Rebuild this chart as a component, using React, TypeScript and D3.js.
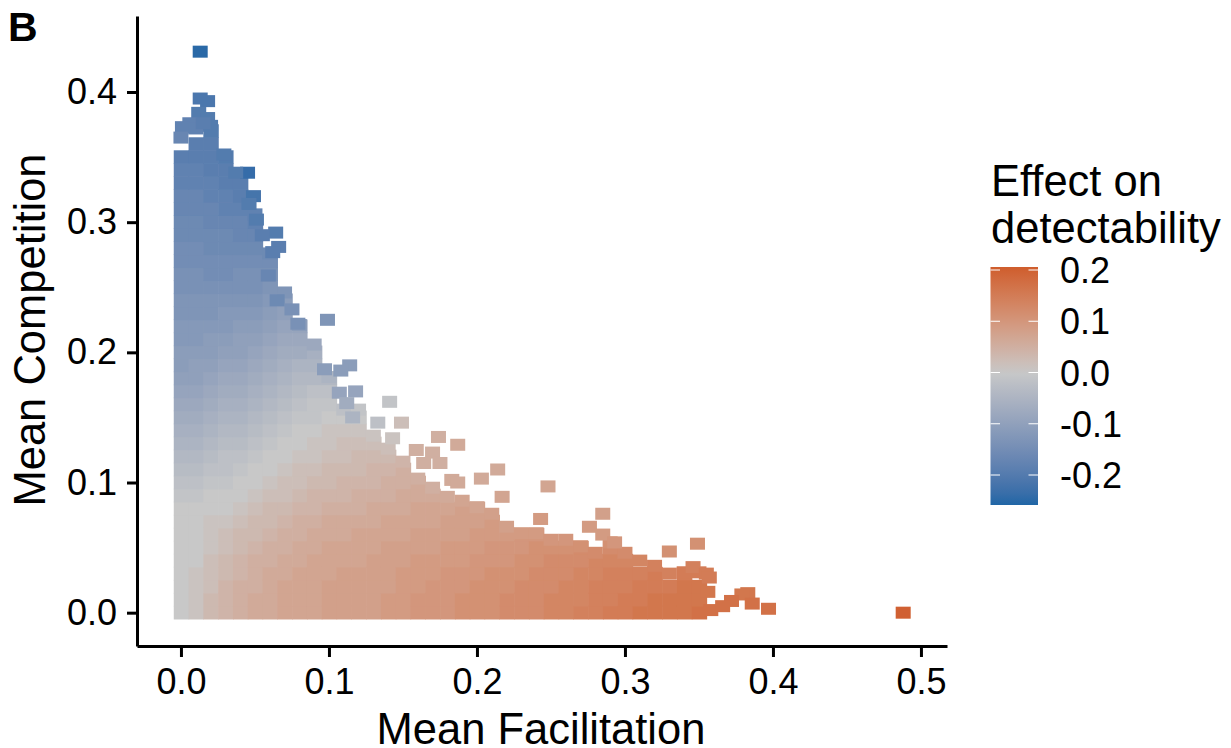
import { useRef, useEffect } from "react";
import * as d3 from "d3";

const xTicks = [0, 0.1, 0.2, 0.3, 0.4, 0.5];
const yTicks = [0, 0.1, 0.2, 0.3, 0.4];
const legendTicks = [0.2, 0.1, 0, -0.1, -0.2];
const legendLabels = ["0.2", "0.1", "0.0", "-0.1", "-0.2"];

// effect on detectability (in hundredths), one list per facilitation bin (0.00, 0.01, ...),
// going up in competition steps of 0.01 from 0
const gridStep = 0.01;
const effectColumns = [
  [0,0,0,0,0,0,0,0,0,-1,-2,-3,-4,-5,-6,-7,-8,-9,-10,-11,-11,-12,-12,-13,-13,-14,-14,-15,-15,-16,-16,-17,-17,-18,-18,-19],
  [1,1,1,1,0,0,0,0,0,-1,-2,-3,-4,-5,-6,-7,-8,-9,-10,-10,-11,-12,-12,-13,-13,-14,-14,-15,-15,-16,-16,-17,-17,-18,-18,-19,-19],
  [3,3,2,2,2,1,1,1,0,0,-1,-2,-3,-4,-5,-6,-7,-8,-9,-10,-11,-11,-12,-13,-13,-14,-15,-15,-16,-16,-17,-17,-18,-18,-19,-19,-19,-20],
  [4,4,4,3,3,2,2,1,0,0,-1,-2,-2,-3,-4,-5,-6,-7,-8,-9,-10,-11,-12,-12,-13,-14,-15,-15,-16,-16,-17,-18,-18,-19,-19,-20],
  [5,5,5,4,4,3,3,2,1,0,0,-1,-2,-3,-4,-5,-6,-7,-8,-9,-10,-10,-11,-12,-13,-14,-14,-15,-16,-17,-17,-18,-19,-19],
  [6,6,5,5,5,4,3,3,2,1,0,0,-1,-2,-3,-4,-5,-6,-7,-8,-9,-10,-11,-12,-13,-14,-14,-15,-16,-17,-18],
  [6,6,6,6,5,5,4,3,3,2,1,0,0,-1,-2,-3,-4,-5,-6,-7,-8,-9,-10,-11,-12,-13,-14,-15],
  [7,7,7,6,6,5,5,4,3,2,2,1,0,0,-1,-2,-3,-4,-5,-6,-7,-8,-9,-10,-11],
  [7,7,7,7,6,6,5,5,4,3,2,2,1,0,0,-1,-2,-3,-4,-5,-7,-8,-9],
  [7,7,7,7,7,6,6,5,4,4,3,2,1,1,0,-1,-1,-2,-4,-5,-6],
  [8,8,8,7,7,7,6,6,5,4,3,3,2,1,1,0,-1,-2,-4],
  [8,8,8,8,7,7,6,6,5,4,4,3,2,2,1,0],
  [8,8,8,8,7,7,7,6,5,5,4,3,3,2,1,0],
  [8,8,8,8,8,7,7,6,6,5,4,4,3,2],
  [9,9,8,8,8,8,7,7,6,5,5,4,3],
  [9,9,9,9,8,8,7,7,6,6,5,5],
  [10,10,9,9,9,8,8,7,7,6,6],
  [10,10,10,9,9,8,8,7,7,6],
  [10,10,10,10,9,9,8,8,7],
  [11,11,10,10,9,9,8,8,8],
  [11,11,11,10,10,9,9,8,8],
  [11,11,11,11,10,10,9,9],
  [12,12,11,11,10,10,9],
  [12,12,12,11,11,10,10],
  [12,12,12,12,11,11,10],
  [13,13,12,12,12,11],
  [13,13,13,12,12,11],
  [14,13,13,13,12,12],
  [14,14,14,13,13],
  [15,14,14,14,13,12],
  [15,15,14,14,13],
  [16,15,15,14],
  [16,16,15,15],
  [16,16,15],
  [16,16,16,15],
  [17,16,16],
];

// points along the upper rim of the dense area, one per facilitation bin from 0.05 up
const rimFacilitation = [
  0.05,0.06,0.07,0.08,0.09,0.10,0.11,0.12,0.13,0.14,0.15,0.16,0.17,0.18,0.19,0.20,
  0.21,0.22,0.23,0.24,0.25,0.26,0.27,0.28,0.29,0.30,0.31,0.32,0.33,0.34,0.35,
];
const rimCompetition = [
  0.306,0.276,0.246,0.221,0.206,0.181,0.156,0.156,0.136,0.126,0.116,0.103,0.096,0.089,0.086,0.081,
  0.076,0.066,0.061,0.061,0.056,0.056,0.051,0.046,0.054,0.046,0.04,0.036,0.03,0.031,0.031,
];
const rimEffect = [
  -0.18,-0.16,-0.13,-0.11,-0.08,-0.05,-0.02,-0.01,0.01,0.02,0.04,0.05,0.05,0.06,0.07,0.07,
  0.08,0.08,0.09,0.09,0.1,0.1,0.11,0.12,0.11,0.12,0.13,0.14,0.14,0.15,0.15,
];

// points sticking out of the dense area
const edgeFacilitation = [
  0.013,0.013,0.018,0.012,0.018,0.02,0.006,0.001,0,0.029,0.045,0.037,0.049,0.046,0.051,0.064,0.066,0.062,0.055,0.059,
  0.065,0.075,0.099,0.079,0.114,0.108,0.097,0.118,0.107,0.112,0.141,0.116,0.133,0.149,0.143,0.159,0.174,0.187,0.17,0.175,
  0.164,0.214,0.203,0.183,0.187,0.248,0.217,0.285,0.243,0.276,0.285,0.33,0.349,0.293,0.346,0.355,0.357,0.356,0.383,0.379,
  0.372,0.386,0.397,0.488,0.358,0.366,0.01,0.015,
];
const edgeCompetition = [
  0.431,0.395,0.393,0.384,0.38,0.374,0.376,0.373,0.365,0.352,0.338,0.338,0.32,0.314,0.302,0.292,0.281,0.277,0.29,0.259,
  0.24,0.233,0.225,0.222,0.19,0.186,0.187,0.17,0.169,0.161,0.162,0.15,0.146,0.146,0.134,0.125,0.135,0.129,0.123,0.115,
  0.115,0.11,0.103,0.102,0.1,0.097,0.089,0.076,0.072,0.066,0.06,0.047,0.053,0.054,0.035,0.03,0.027,0.016,0.015,0.014,
  0.009,0.007,0.003,0,0.002,0.005,0.372,0.376,
];
const edgeEffect = [
  -0.25,-0.21,-0.21,-0.2,-0.2,-0.2,-0.18,-0.18,-0.17,-0.2,-0.24,-0.2,-0.22,-0.2,-0.2,-0.2,-0.19,-0.19,-0.19,-0.17,
  -0.16,-0.14,-0.13,-0.14,-0.11,-0.11,-0.11,-0.09,-0.09,-0.07,-0.01,-0.05,-0.02,0.02,0.01,0.05,0.05,0.06,0.05,0.05,
  0.05,0.06,0.06,0.06,0.06,0.07,0.07,0.08,0.09,0.09,0.09,0.11,0.11,0.1,0.14,0.15,0.15,0.16,0.16,0.16,
  0.17,0.17,0.17,0.2,0.17,0.17,-0.18,-0.19,
];

export default function App() {
  const ref = useRef<SVGSVGElement>(null);

  useEffect(() => {
    const svg = d3.select(ref.current);
    svg.selectAll("*").remove();

    const width = 1231;
    const height = 748;
    const font = "'Liberation Sans', Arial, sans-serif";

    const x = d3.scaleLinear().domain([-0.0297, 0.5176]).range([137, 947]);
    const y = d3.scaleLinear().domain([-0.0256, 0.4584]).range([646, 16]);

    const color = d3.scaleLinear<string>()
      .domain([-0.258, 0, 0.206])
      .range(["#2166a6", "#c8c8c8", "#cf5d2c"])
      .interpolate(d3.interpolateLab);

    const defs = svg.append("defs");
    defs.append("filter")
      .attr("id", "soft")
      .attr("x", "-2%").attr("y", "-2%").attr("width", "104%").attr("height", "104%")
      .append("feGaussianBlur")
      .attr("stdDeviation", 0.7);

    const marks = svg.append("g").attr("filter", "url(#soft)");

    const cellW = x(gridStep) - x(0) + 0.6;
    const cellH = y(0) - y(gridStep) + 0.6;
    const cells = effectColumns.flatMap((col, i) =>
      col.map((e, j) => ({ fx: i * gridStep, cy: j * gridStep, e: e / 100 }))
    );

    marks.append("g")
      .selectAll("rect")
      .data(cells)
      .enter()
      .append("rect")
      .attr("x", d => x(d.fx) - cellW / 2 + 0.5)
      .attr("y", d => y(d.cy) - cellH / 2)
      .attr("width", cellW)
      .attr("height", cellH)
      .attr("fill", d => color(d.e));

    const markW = 15;
    const markH = 12;
    const scatter = [
      ...rimFacilitation.map((fx, i) => ({ fx, cy: rimCompetition[i], e: rimEffect[i] })),
      ...edgeFacilitation.map((fx, i) => ({ fx, cy: edgeCompetition[i], e: edgeEffect[i] })),
    ];

    marks.append("g")
      .selectAll("rect")
      .data(scatter)
      .enter()
      .append("rect")
      .attr("x", d => x(d.fx) - markW / 2)
      .attr("y", d => y(d.cy) - markH / 2)
      .attr("width", markW)
      .attr("height", markH)
      .attr("fill", d => color(d.e));

    const xAxis = svg.append("g")
      .attr("transform", "translate(0,646)")
      .call(d3.axisBottom(x).tickValues(xTicks).tickFormat(d3.format(".1f")).tickSize(11).tickSizeOuter(0).tickPadding(11));
    const yAxis = svg.append("g")
      .attr("transform", "translate(137,0)")
      .call(d3.axisLeft(y).tickValues(yTicks).tickFormat(d3.format(".1f")).tickSize(10).tickSizeOuter(0).tickPadding(10));

    [xAxis, yAxis].forEach(axis => {
      axis.select(".domain").attr("stroke", "#000").attr("stroke-width", 3);
      axis.selectAll("line").attr("stroke", "#000").attr("stroke-width", 3);
      axis.selectAll("text").attr("fill", "#000").attr("font-size", 36).attr("font-family", font);
    });

    svg.append("text")
      .attr("x", 541)
      .attr("y", 744)
      .attr("text-anchor", "middle")
      .attr("font-size", 43.5)
      .attr("font-family", font)
      .text("Mean Facilitation");

    svg.append("text")
      .attr("transform", "translate(45,330) rotate(-90)")
      .attr("text-anchor", "middle")
      .attr("font-size", 43.5)
      .attr("font-family", font)
      .text("Mean Competition");

    svg.append("text")
      .attr("x", 8)
      .attr("y", 41)
      .attr("font-size", 41)
      .attr("font-weight", "bold")
      .attr("font-family", font)
      .text("B");

    // legend
    ["Effect on", "detectability"].forEach((t, i) => {
      svg.append("text")
        .attr("x", 991)
        .attr("y", 196 + i * 47)
        .attr("font-size", 43.5)
        .attr("font-family", font)
        .text(t);
    });

    const legendY = d3.scaleLinear().domain([-0.2, 0.2]).range([475, 270]);
    const barTop = 267;
    const barBottom = 505;
    const barLeft = 990.5;
    const barRight = 1038;

    const grad = defs.append("linearGradient")
      .attr("id", "legend-gradient")
      .attr("x1", 0).attr("x2", 0).attr("y1", 1).attr("y2", 0);
    d3.range(0, 21).forEach(i => {
      const t = i / 20;
      grad.append("stop")
        .attr("offset", t)
        .attr("stop-color", color(legendY.invert(barBottom + t * (barTop - barBottom))));
    });

    svg.append("rect")
      .attr("x", barLeft)
      .attr("y", barTop)
      .attr("width", barRight - barLeft)
      .attr("height", barBottom - barTop)
      .attr("fill", "url(#legend-gradient)");

    legendTicks.forEach((v, i) => {
      [[barLeft, barLeft + 9.5], [barRight - 9.5, barRight]].forEach(([a, b]) => {
        svg.append("line")
          .attr("x1", a).attr("x2", b)
          .attr("y1", legendY(v)).attr("y2", legendY(v))
          .attr("stroke", "#fff")
          .attr("stroke-width", 1);
      });
      svg.append("text")
        .attr("x", 1060)
        .attr("y", legendY(v) + 13)
        .attr("font-size", 36)
        .attr("font-family", font)
        .text(legendLabels[i]);
    });

    svg.attr("width", width).attr("height", height);
  }, []);

  return <svg ref={ref} style={{ position: "absolute", left: 0, top: 0, display: "block", background: "#fff" }}></svg>;
}
